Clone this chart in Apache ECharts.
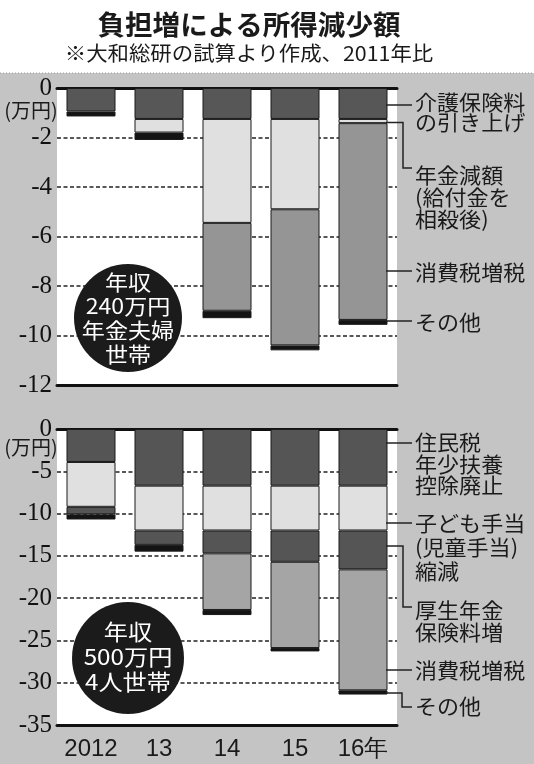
<!DOCTYPE html>
<html><head><meta charset="utf-8">
<script src="https://cdn.jsdelivr.net/npm/echarts@6/dist/echarts.min.js"></script>
<style>html,body{margin:0;padding:0;background:#c4c4c4}#c{width:534px;height:764px}</style>
</head><body><div id="c"></div>
<script>
// ---- categories & ticks ----
const years = ['2012', '13', '14', '15', '16年'];
const topTicks = [0, -2, -4, -6, -8, -10, -12];
const bottomTicks = [0, -5, -10, -15, -20, -25, -30, -35];

// ---- top panel: 年収240万円 年金夫婦世帯 (万円) ----
const topCare        = [-0.95, -1.25, -1.25, -1.25, -1.25]; // 介護保険料の引き上げ
const topPension     = [0, -0.55, -4.2, -3.65, -0.17];      // 年金減額(給付金を相殺後)
const topConsumption = [0, 0, -3.55, -5.5, -7.95];          // 消費税増税
const topOther       = [-0.2, -0.3, -0.3, -0.2, -0.2];      // その他

// ---- bottom panel: 年収500万円 4人世帯 (万円) ----
const botResident    = [-3.9, -6.7, -6.7, -6.7, -6.7];      // 住民税年少扶養控除廃止
const botChild       = [-5.3, -5.3, -5.3, -5.3, -5.3];      // 子ども手当(児童手当)縮減
const botWelfare     = [-0.9, -1.7, -2.7, -3.7, -4.6];      // 厚生年金保険料増
const botConsumption = [0, 0, -6.7, -10.2, -14.3];          // 消費税増税
const botOther       = [-0.6, -0.8, -0.6, -0.4, -0.5];      // その他

const CJK = 'Noto Sans CJK JP';
const chart = echarts.init(document.getElementById('c'), null, {renderer: 'canvas'});

function bar(name, data, color, idx) {
  return {
    type: 'bar', name, xAxisIndex: idx * 2, yAxisIndex: idx, stack: 's' + idx,
    data: data.map(v => v === 0 ? '-' : v), barWidth: 49, silent: true,
    itemStyle: {color, borderColor: '#1a1a1a', borderWidth: 1}
  };
}
function yAxis(idx, ticks) {
  return {
    gridIndex: idx, type: 'value', min: ticks[ticks.length - 1], max: ticks[0],
    interval: ticks[0] - ticks[1],
    axisLine: {show: false}, axisTick: {show: false},
    splitLine: {lineStyle: {type: [4, 2.5], color: '#222', width: 1.5}},
    axisLabel: {
      fontFamily: 'Liberation Serif', fontSize: 25, color: '#111', margin: 5,
      formatter: '{s|{value}}',
      rich: {s: {fontFamily: 'Liberation Serif', fontSize: 25, color: '#111'}}
    }
  };
}
function xAxes(idx, showLabels) {
  return [{
    gridIndex: idx, type: 'category', data: years, position: 'bottom',
    axisLine: {onZero: false, lineStyle: {color: '#111', width: 3}},
    axisTick: {show: false},
    axisLabel: {show: showLabels, interval: 0, fontFamily: 'Liberation Sans', fontSize: 24, color: '#1a1a1a', margin: 12}
  }, {
    gridIndex: idx, type: 'category', data: years, position: 'top',
    axisLine: {onZero: false, lineStyle: {color: '#111', width: 3}},
    axisTick: {show: false}, axisLabel: {show: false}
  }];
}
function txt(x, y, s, size, o) {
  o = o || {};
  return {
    type: 'text', x, y, scaleX: o.sx || 1.05, z: 100,
    style: {text: s, x: 0, y: 0, fill: o.fill || '#1a1a1a', fontSize: size,
      fontFamily: o.family || CJK, fontWeight: o.weight || 'normal',
      textAlign: o.align || 'left', textVerticalAlign: 'middle'}
  };
}
function lines(x, y0, step, arr, size, o) {
  return arr.map((s, i) => txt(x, y0 + i * step, s, size, o));
}
function poly(points) {
  return {type: 'polyline', z: 100, shape: {points}, style: {stroke: '#222', lineWidth: 1.5, fill: null}};
}

const LX = 415;
const graphic = [
  {type: 'rect', z: 0, shape: {x: 0, y: 0, width: 534, height: 73}, style: {fill: '#fff'}},
  {type: 'line', z: 1, shape: {x1: 0, y1: 73, x2: 534, y2: 73}, style: {stroke: '#999', lineWidth: 1, lineDash: [1, 2]}},
  txt(249, 25, '負担増による所得減少額', 27, {align: 'center', weight: 'bold', sx: 1.02}),
  txt(249, 53.5, '※大和総研の試算より作成、2011年比', 20, {align: 'center', sx: 1.07}),
  txt(31, 110, '(万円)', 20, {align: 'center', sx: 1.0}),
  txt(31, 447, '(万円)', 20, {align: 'center', sx: 1.0}),
  // circles
  {type: 'circle', z: 50, shape: {cx: 128, cy: 318, r: 54}, style: {fill: '#1b1b1b'}},
  ...lines(128, 282, 24, ['年収', '240万円', '年金夫婦', '世帯'], 21, {align: 'center', fill: '#fff', sx: 1.1}),
  {type: 'circle', z: 50, shape: {cx: 128, cy: 658, r: 56}, style: {fill: '#1b1b1b'}},
  ...lines(128, 632, 25, ['年収', '500万円', '4人世帯'], 22, {align: 'center', fill: '#fff', sx: 1.1}),
  // top annotations
  ...lines(LX, 102, 20.5, ['介護保険料', 'の引き上げ'], 21),
  poly([[386, 105], [412, 105]]),
  ...lines(LX, 175, 22, ['年金減額', '(給付金を', '相殺後)'], 21),
  poly([[386, 122.5], [403, 122.5], [403, 168], [412, 168]]),
  txt(LX, 272, '消費税増税', 21),
  poly([[386, 271], [412, 271]]),
  txt(LX, 322.5, 'その他', 21),
  poly([[386, 321], [412, 321]]),
  // bottom annotations
  ...lines(LX, 442, 21.7, ['住民税', '年少扶養', '控除廃止'], 21),
  poly([[386, 443], [412, 443]]),
  ...lines(LX, 523.5, 23.8, ['子ども手当', '(児童手当)', '縮減'], 21),
  poly([[386, 523], [412, 523]]),
  ...lines(LX, 610, 22, ['厚生年金', '保険料増'], 21),
  poly([[386, 546], [403, 546], [403, 607], [412, 607]]),
  txt(LX, 670, '消費税増税', 21),
  poly([[386, 670], [412, 670]]),
  txt(LX, 706, 'その他', 21),
  poly([[386, 693], [402, 693], [402, 707], [412, 707]])
];

chart.setOption({
  animation: false,
  backgroundColor: '#c4c4c4',
  grid: [
    {left: 57, top: 88, width: 340, height: 297, show: true, backgroundColor: '#fff', borderWidth: 0},
    {left: 57, top: 429, width: 340, height: 296, show: true, backgroundColor: '#fff', borderWidth: 0}
  ],
  xAxis: [...xAxes(0, false), ...xAxes(1, true)],
  yAxis: [yAxis(0, topTicks), yAxis(1, bottomTicks)],
  series: [
    bar('介護保険料の引き上げ', topCare, '#575757', 0),
    bar('年金減額', topPension, '#e0e0e0', 0),
    bar('消費税増税', topConsumption, '#959595', 0),
    bar('その他', topOther, '#141414', 0),
    bar('住民税年少扶養控除廃止', botResident, '#555555', 1),
    bar('子ども手当縮減', botChild, '#e0e0e0', 1),
    bar('厚生年金保険料増', botWelfare, '#555555', 1),
    bar('消費税増税', botConsumption, '#a5a5a5', 1),
    bar('その他', botOther, '#141414', 1)
  ],
  graphic
});
</script></body></html>
